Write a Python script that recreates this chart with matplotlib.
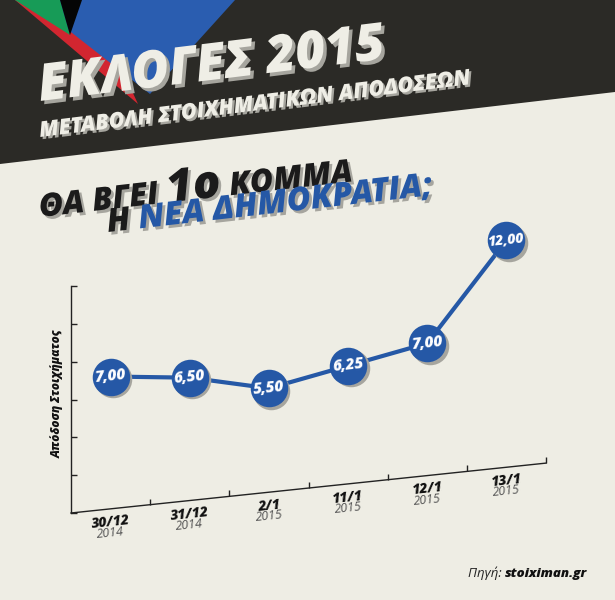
import numpy as np
import matplotlib
matplotlib.use('Agg')
import matplotlib.pyplot as plt
import matplotlib.patheffects as pe
from matplotlib.transforms import Affine2D, ScaledTranslation
from matplotlib.patches import Polygon

dates = ['30/12', '31/12', '2/1', '11/1', '12/1', '13/1']
years = ['2014', '2014', '2015', '2015', '2015', '2015']
odds = [7.00, 6.50, 5.50, 6.25, 7.00, 12.00]
odds_labels = ['7,00', '6,50', '5,50', '6,25', '7,00', '12,00']
y_ticks = [0, 2, 4, 6, 8, 10, 12]

BG = '#eeede4'
DARK = '#2b2a26'
BLUE = '#2558a6'
SHADOW = '#a6a59e'
FONT = ['Open Sans', 'DejaVu Sans']

fig = plt.figure(figsize=(6.15, 6.0), dpi=100)
fig.patch.set_facecolor(BG)

# background layer, 1 unit = 1 pixel, y pointing down
bg = fig.add_axes([0, 0, 1, 1])
bg.set_xlim(0, 615)
bg.set_ylim(600, 0)
bg.axis('off')
bg.add_patch(Polygon([(0, 0), (615, 0), (615, 92), (0, 164)], color=DARK, lw=0))
bg.add_patch(Polygon([(15, 0), (90, 0), (138, 104)], color='#d22630', lw=0))
bg.add_patch(Polygon([(30, 0), (235, 0), (150, 94)], color='#2a5db0', lw=0))
bg.add_patch(Polygon([(15, 0), (60, 0), (70, 35)], color='#179b57', lw=0))
bg.add_patch(Polygon([(60, 0), (82, 0), (70, 35)], color='#050505', lw=0))

renderer = fig.canvas.get_renderer()


def rich_line(pieces, x0, y0, angle, shadow=2.0):
    """Write text pieces one after the other along a rotated baseline."""
    x, y = x0, y0
    ca, sa = np.cos(np.radians(angle)), np.sin(np.radians(angle))
    for txt, size, color, weight in pieces:
        t = bg.text(x, y, txt, fontsize=size, color=color, weight=weight,
                    style='italic', family=FONT, ha='left', va='baseline')
        w = t.get_window_extent(renderer).width
        t.set_rotation(angle)
        t.set_rotation_mode('anchor')
        if shadow:
            t.set_path_effects([pe.withSimplePatchShadow(
                offset=(shadow, -shadow), shadow_rgbFace=SHADOW, alpha=1)])
        x += w * ca
        y -= w * sa


rich_line([('ΕΚΛΟΓΕΣ 2015', 37, '#efeee6', 'heavy')], 40, 101, 7, shadow=2.4)
rich_line([('ΜΕΤΑΒΟΛΗ ΣΤΟΙΧΗΜΑΤΙΚΩΝ ΑΠΟΔΟΣΕΩΝ', 15.5, '#efeee6', 'heavy')], 40, 137, 7,
          shadow=1.6)
rich_line([('ΘΑ ΒΓΕΙ ', 23, '#1b1b1b', 'heavy'),
           ('1ο', 33, '#1b1b1b', 'heavy'),
           (' ΚΟΜΜΑ', 23, '#1b1b1b', 'heavy')], 40, 217, 6.5)
rich_line([('Η ', 23.5, '#1b1b1b', 'heavy'),
           ('ΝΕΑ ΔΗΜΟΚΡΑΤΙΑ;', 23.5, BLUE, 'heavy')], 108, 232, 6.5)
rich_line([('Πηγή: ', 9.5, '#222222', 'normal'),
           ('stoiximan.gr', 9.5, '#111111', 'heavy')], 468, 577, 0, shadow=0)

# chart: the x axis is slanted, so shear the data transform
ax = fig.add_axes([71 / 615, 87 / 600, 475 / 615, 15 * 18.9 / 600])
ax.set_xlim(0, 6)
ax.set_ylim(0, 15)
ax.axis('off')
skew = Affine2D.from_values(1, 0.44, 0, 1, 0, 0) + ax.transData
shadow_off = ScaledTranslation(2.5 / 100, -2.5 / 100, fig.dpi_scale_trans)

ax.plot([0, 0], [0, y_ticks[-1]], color='#222222', lw=1, transform=skew, clip_on=False)
ax.plot([0, len(dates)], [0, 0], color='#222222', lw=1, transform=skew, clip_on=False)
ax.plot(np.zeros(len(y_ticks)), y_ticks, ls='none', marker=1, ms=4, mew=1,
        color='#222222', transform=skew, clip_on=False)
ax.plot(np.arange(1, len(dates) + 1), np.zeros(len(dates)), ls='none', marker=2,
        ms=4, mew=1, color='#222222', transform=skew, clip_on=False)

xs = np.arange(len(odds)) + 0.5
ax.plot(xs, odds, color=BLUE, lw=3, transform=skew, clip_on=False, zorder=2)
ax.plot(xs, odds, 'o', ms=27, mew=0, color=SHADOW, transform=skew + shadow_off,
        clip_on=False, zorder=3)
ax.plot(xs, odds, 'o', ms=27, mew=0, color=BLUE, transform=skew, clip_on=False, zorder=4)

for x, v, lab in zip(xs, odds, odds_labels):
    ax.text(x, v, lab, transform=skew, ha='center', va='center', rotation=6,
            rotation_mode='anchor', color='white', fontsize=11 if len(lab) < 5 else 10,
            weight='heavy', style='italic', family=FONT, zorder=5)

for x, d, yr in zip(xs, dates, years):
    ax.annotate(d, xy=(x, 0), xycoords=skew, xytext=(0, -9.5), textcoords='offset points',
                ha='center', va='center', rotation=6, rotation_mode='anchor',
                fontsize=10, weight='heavy', style='italic', family=FONT, color='#111111')
    ax.annotate(yr, xy=(x, 0), xycoords=skew, xytext=(0, -17.5), textcoords='offset points',
                ha='center', va='center', rotation=6, rotation_mode='anchor',
                fontsize=9, style='italic', family=FONT, color='#555555')

fig.text(57 / 615, 1 - 394 / 600, 'Απόδοση Στοιχήματος', rotation=90, ha='center',
         va='center', fontsize=8.5, weight='heavy', style='italic', family=FONT,
         color='#111111')

fig.savefig('out.png', dpi=100, facecolor=BG)
